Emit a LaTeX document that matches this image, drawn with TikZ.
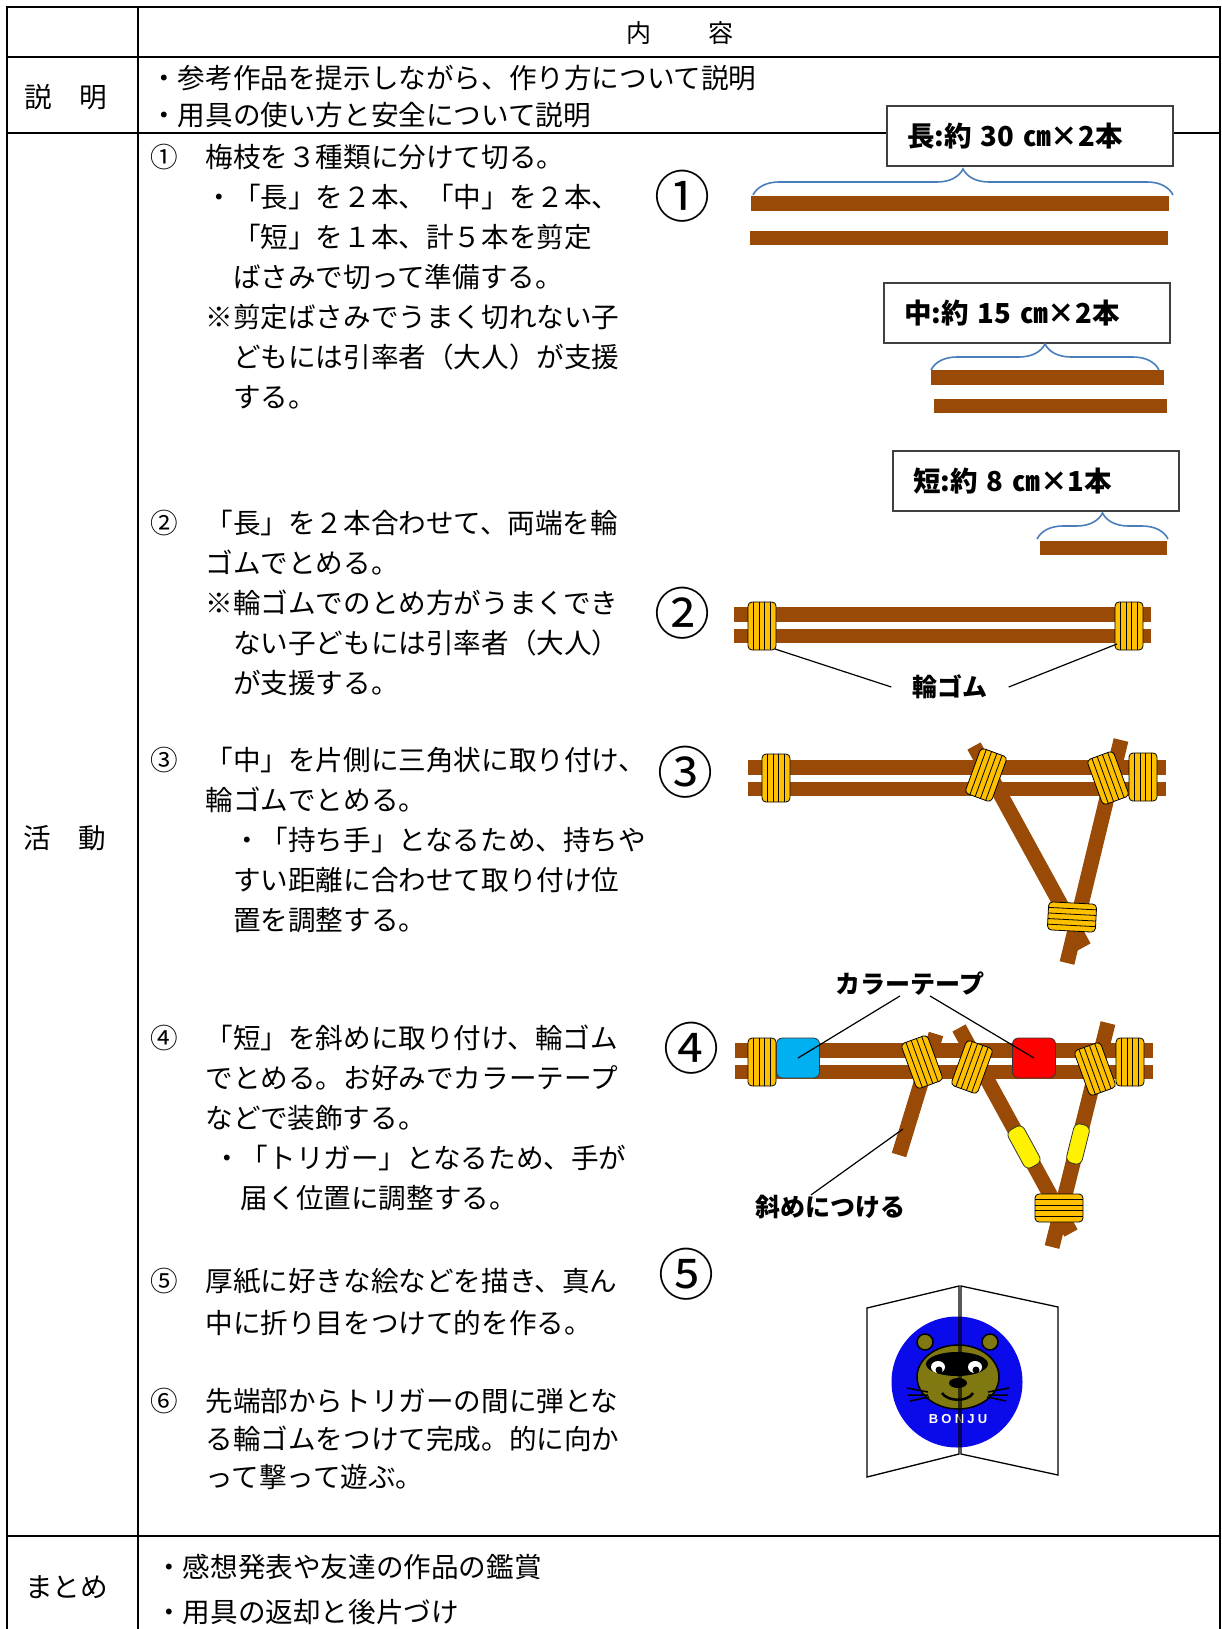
\documentclass[tikz,border=0pt]{standalone}
\usepackage{fontspec}
\setmainfont{Noto Sans CJK JP}
\newfontfamily\logofont[LetterSpace=25]{Liberation Sans}
\usetikzlibrary{positioning, decorations.pathreplacing}
\definecolor{eda}{RGB}{153,74,6}
\definecolor{gomuc}{RGB}{255,192,0}
\definecolor{bracec}{RGB}{74,126,187}
\definecolor{tapeb}{RGB}{0,176,240}
\definecolor{faceol}{RGB}{128,120,16}
\definecolor{matoblue}{RGB}{10,10,235}
\tikzstyle{rule} = [line width=2.2pt]
\tikzstyle{stick} = [fill=eda]
\tikzstyle{diag} = [draw=eda, line width=15pt]
\tikzstyle{gomu} = [draw=black, fill=gomuc, line width=0.8pt, rounded corners=4pt]
\tikzstyle{tape} = [draw=black!80, line width=0.8pt, rounded corners=6pt, inner sep=0pt]
\tikzstyle{sizebox} = [draw=black!75, line width=1.5pt, fill=white,
minimum width=286pt, minimum height=60pt,
text width=246pt, align=left, inner xsep=20pt,
font=\fontsize{27.5}{30}\selectfont\bfseries]
\tikzstyle{brace} = [draw=bracec, line width=1.6pt, decorate,
decoration={brace, amplitude=26pt}]
\tikzstyle{txt} = [anchor=north west, inner sep=0pt, align=left,
font=\fontsize{27.6}{40}\selectfont]
\tikzstyle{lbl} = [anchor=west, inner sep=0pt, font=\fontsize{27.6}{40}\selectfont]
\tikzstyle{num} = [inner sep=0pt, font=\fontsize{56}{60}\selectfont]
\tikzstyle{callout} = [inner sep=0pt, font=\fontsize{25}{30}\selectfont\bfseries]
\tikzstyle{leader} = [line width=1.2pt]

% band of rubber: x, y, angle, name
\newcommand{\wagomu}[4]{%
\begin{scope}[shift={(#1,#2)}, rotate=#3]
\draw[gomu] (-14,-24) rectangle (14,24);
\foreach \s in {-8.4,-2.8,2.8,8.4} \draw[line width=0.8pt] (\s,-24) -- (\s,24);
\coordinate (#4) at (0,0);
\end{scope}}

\begin{document}
\begin{tikzpicture}[x=1pt, y=-1pt]
\useasboundingbox (0,0) rectangle (1222,1629);

% table
\draw[rule] (7,1629) -- (7,7) -- (1220,7) -- (1220,1629);
\draw[rule] (138,7) -- (138,1629);
\draw[rule] (7,57) -- (1220,57);
\draw[rule] (7,133) -- (1220,133);
\draw[rule] (7,1536) -- (1220,1536);

\node[lbl, anchor=center, font=\fontsize{25}{30}\selectfont] (head) at (680,33) {内\hspace{2.3em}容};
\node[lbl] (setsumei) at (24,97) {説　明};
\node[lbl] (katsudo) at (23,838) {活　動};
\node[lbl] (matome) at (25,1587) {まとめ};

\node[txt, font=\fontsize{27.6}{37}\selectfont] (intro) at (150,62.5) {\strut ・参考作品を提示しながら、作り方について説明\\
・用具の使い方と安全について説明};

\node[txt] (step1) at (150,139.5) {\strut ①　梅枝を３種類に分けて切る。\\
　　・「長」を２本、「中」を２本、\\
　　　「短」を１本、計５本を剪定\\
　　　ばさみで切って準備する。\\
　　※剪定ばさみでうまく切れない子\\
　　　どもには引率者（大人）が支援\\
　　　する。};

\node[txt] (step2) at (150,505.5) {\strut ②　「長」を２本合わせて、両端を輪\\
　　ゴムでとめる。\\
　　※輪ゴムでのとめ方がうまくでき\\
　　　ない子どもには引率者（大人）\\
　　　が支援する。};

\node[txt] (step3) at (150,742.5) {\strut ③　「中」を片側に三角状に取り付け、\\
　　輪ゴムでとめる。\\
　　　・「持ち手」となるため、持ちや\\
　　　すい距離に合わせて取り付け位\\
　　　置を調整する。};

\node[txt] (step4) at (150,1020.5) {\strut ④　「短」を斜めに取り付け、輪ゴム\\
　　でとめる。お好みでカラーテープ\\
　　などで装飾する。\\
　　\hspace{8pt}・「トリガー」となるため、手が\\
　　\hspace{8pt}　届く位置に調整する。};

\node[txt, font=\fontsize{27.6}{42}\selectfont] (step5) at (150,1261.5) {\strut ⑤　厚紙に好きな絵などを描き、真ん\\
　　中に折り目をつけて的を作る。};

\node[txt, font=\fontsize{27.6}{38}\selectfont] (step6) at (150,1384.5) {\strut ⑥　先端部からトリガーの間に弾とな\\
　　る輪ゴムをつけて完成。的に向か\\
　　って撃って遊ぶ。};

\node[txt, font=\fontsize{27.6}{45}\selectfont] (summary) at (155,1545.5) {\strut ・感想発表や友達の作品の鑑賞\\
・用具の返却と後片づけ};

% 1: three lengths
\node[num] (n1) at (682,196) {①};
\fill[stick] (751,196) rectangle (1169,211);
\fill[stick] (750,231) rectangle (1168,245);
\fill[stick] (931,370) rectangle (1164,385);
\fill[stick] (934,399) rectangle (1167,413);
\fill[stick] (1040,541) rectangle (1167,555);
\node[sizebox] (long) at (1030,136) {長:約 30 ㎝×2本};
\node[sizebox] (mid) at (1027,313) {中:約 15 ㎝×2本};
\node[sizebox] (short) at (1036,481) {短:約 8 ㎝×1本};
\draw[brace] (753,195) -- (1173,195);
\draw[brace] (931,370) -- (1159,370);
\draw[brace] (1037,539) -- (1168,539);

% 2: two long sticks
\node[num] (n2) at (682,613) {②};
\fill[stick] (734,607) rectangle (1151,622);
\fill[stick] (734,629) rectangle (1151,643);
\wagomu{762}{626}{0}{g2a}
\wagomu{1129}{626}{0}{g2b}
\coordinate (gomuL) at (775,649);
\coordinate (gomuR) at (1117,644);
\node[callout, inner xsep=21pt] (wagomu) at (950,687) {輪ゴム};
\draw[leader] (gomuL) -- (wagomu.west);
\draw[leader] (gomuR) -- (wagomu.east);

% 3: handle
\node[num] (n3) at (685,772) {③};
\fill[stick] (748,760) rectangle (1166,775);
\fill[stick] (748,782) rectangle (1166,796);
\draw[diag] (974,746) -- (1084,947);
\draw[diag] (1121,740) -- (1067,963);
\wagomu{776}{778}{0}{g3a}
\wagomu{1143}{777}{0}{g3b}
\wagomu{986}{775}{-20}{g3c}
\wagomu{1108}{778}{20}{g3d}
\wagomu{1072}{917}{87}{g3e}

% 4: trigger and tapes
\node[num] (n4) at (691,1048) {④};
\fill[stick] (735,1043) rectangle (1153,1058);
\fill[stick] (735,1065) rectangle (1153,1079);
\draw[diag] (936,1034) -- (899,1155);
\draw[diag] (959,1028) -- (1071,1233);
\draw[diag] (1108,1023) -- (1052,1247);
\wagomu{762}{1062}{0}{g4a}
\wagomu{1130}{1062}{0}{g4b}
\wagomu{922}{1062}{20}{g4c}
\wagomu{972}{1067}{-20}{g4d}
\wagomu{1095}{1069}{20}{g4e}
\wagomu{1059}{1208}{90}{g4f}
\node[tape, fill=tapeb, minimum width=43pt, minimum height=40pt] (bluetape) at (798,1058) {};
\node[tape, fill=red, minimum width=43pt, minimum height=40pt] (redtape) at (1034,1058) {};
\node[tape, fill=yellow, minimum width=18pt, minimum height=43pt, rotate=28.6] (yellowL) at (1024,1147) {};
\node[tape, fill=yellow, minimum width=16pt, minimum height=40pt, rotate=-14] (yellowR) at (1078,1144) {};
\node[callout] (colortape) at (910,984) {カラーテープ};
\draw[leader] ([xshift=-10pt]colortape.south) -- (bluetape.center);
\draw[leader] ([xshift=20pt]colortape.south) -- (redtape.center);
\coordinate (tsuke) at (903,1129);
\node[callout] (naname) at (830,1207) {斜めにつける};
\draw[leader] ([xshift=-19pt]naname.north) -- (tsuke);

% 5: target card
\node[num] (n5) at (686,1274) {⑤};
\fill[matoblue] (957,1382) circle (65.5);
\filldraw[fill=faceol, draw=black, line width=1.5pt] (925,1342) circle (8) (990,1342) circle (8);
\filldraw[fill=faceol, draw=black, line width=1.5pt] (958,1377) ellipse (41 and 32);
\fill[black] (957,1364) ellipse (31 and 12);
\fill[white] (938,1367) ellipse (7 and 6) (975,1367) ellipse (7 and 6);
\fill[black] (939,1370) circle (3.5) (976,1370) circle (3.5);
\fill[black] (958,1383) ellipse (9 and 5);
\draw[line width=2.5pt] (942,1393) .. controls (948,1402) and (968,1402) .. (973,1393);
\draw[line width=1.5pt] (907,1388) -- (928,1392) (908,1395) -- (928,1395) (910,1401) -- (929,1397);
\draw[line width=1.5pt] (1009,1388) -- (988,1392) (1008,1395) -- (988,1395) (1006,1401) -- (987,1397);
\node[font=\logofont\bfseries\fontsize{13}{15}\selectfont, text=white, inner sep=0pt] (bonju) at (958,1419) {BONJU};
\draw[line width=1.3pt] (867,1308) -- (959,1286) -- (959,1454) -- (867,1477) -- cycle;
\draw[line width=1.3pt] (961,1286) -- (1058,1307) -- (1058,1475) -- (961,1454) -- cycle;

\end{tikzpicture}
\end{document}
